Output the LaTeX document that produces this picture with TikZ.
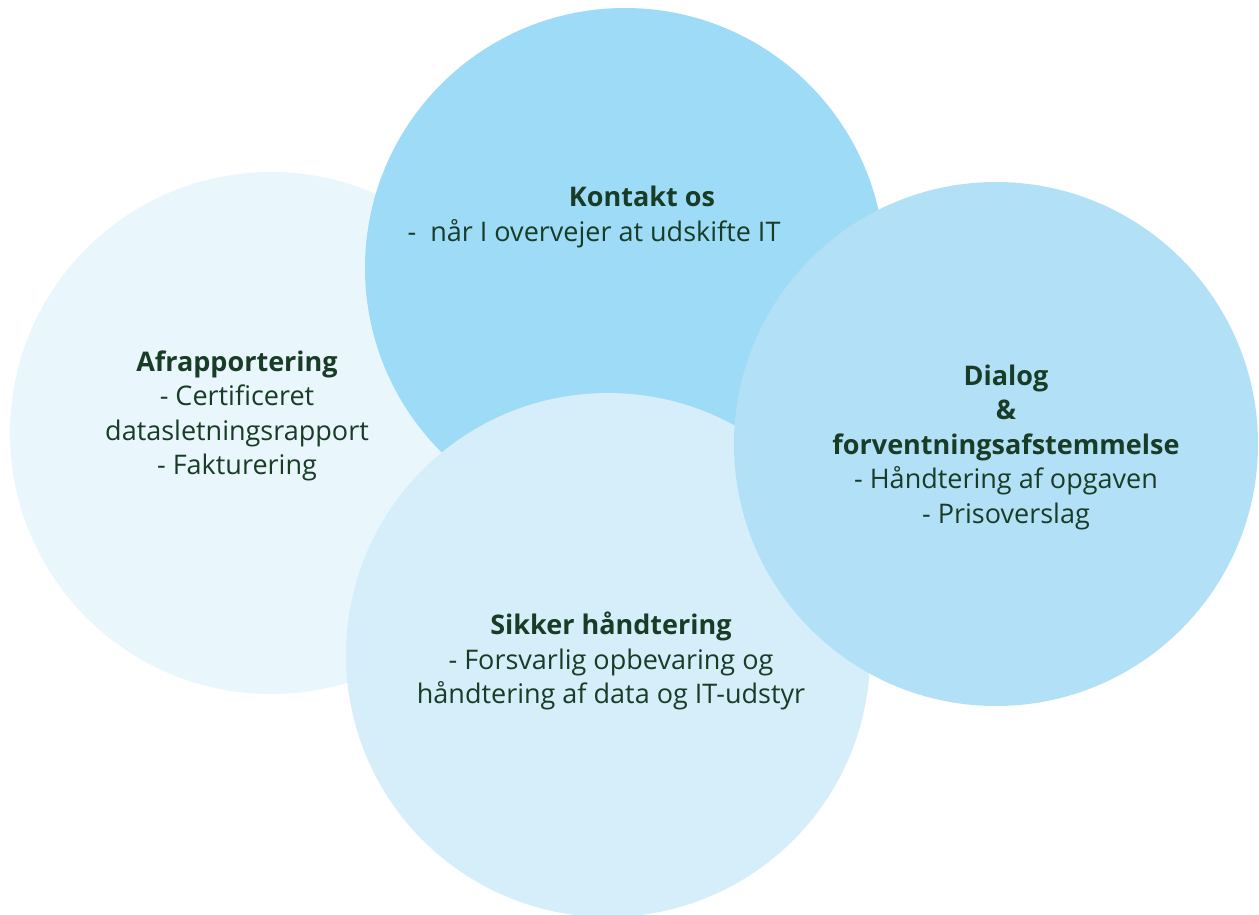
\documentclass[tikz,border=0pt]{standalone}
\usepackage{fontspec}
\setmainfont{Open Sans}
\definecolor{cLeft}{RGB}{233,246,252}
\definecolor{cTop}{RGB}{157,219,247}
\definecolor{cBottom}{RGB}{214,238,250}
\definecolor{cRight}{RGB}{178,225,247}
\definecolor{txt}{RGB}{24,60,38}
\tikzset{
  bubble/.style={fill=#1, draw=none},
  label/.style={text=txt, align=center, inner sep=0pt, font=\fontsize{27}{34.5}\selectfont}
}
\begin{document}
\begin{tikzpicture}[x=1pt,y=-1pt]
\useasboundingbox (0,0) rectangle (1259,914);
\begin{scope}
\clip (0,0) rectangle (1259,914);
\fill[bubble=cLeft] (271,433) circle[radius=261];
\fill[bubble=cTop] (625,268) circle[radius=260];
\fill[bubble=cBottom] (608,655) circle[radius=262];
\fill[bubble=cRight] (996,444) circle[radius=262];
\end{scope}
\node[label] (afr) at (237,416) {\textbf{Afrapportering}\\- Certificeret\\datasletningsrapport\\- Fakturering};
\node[label, anchor=base] (konH) at (642,206) {\textbf{Kontakt os}};
\node[label, anchor=base] (konL) at (594,241) {-\ \ når I overvejer at udskifte IT};
\node[label] (dia) at (1006,447) {\textbf{Dialog}\\\textbf{\&}\\\textbf{forventningsafstemmelse}\\- Håndtering af opgaven\\- Prisoverslag};
\node[label] (sik) at (611,661) {\textbf{Sikker håndtering}\\- Forsvarlig opbevaring og\\håndtering af data og IT-udstyr};
\end{tikzpicture}
\end{document}
